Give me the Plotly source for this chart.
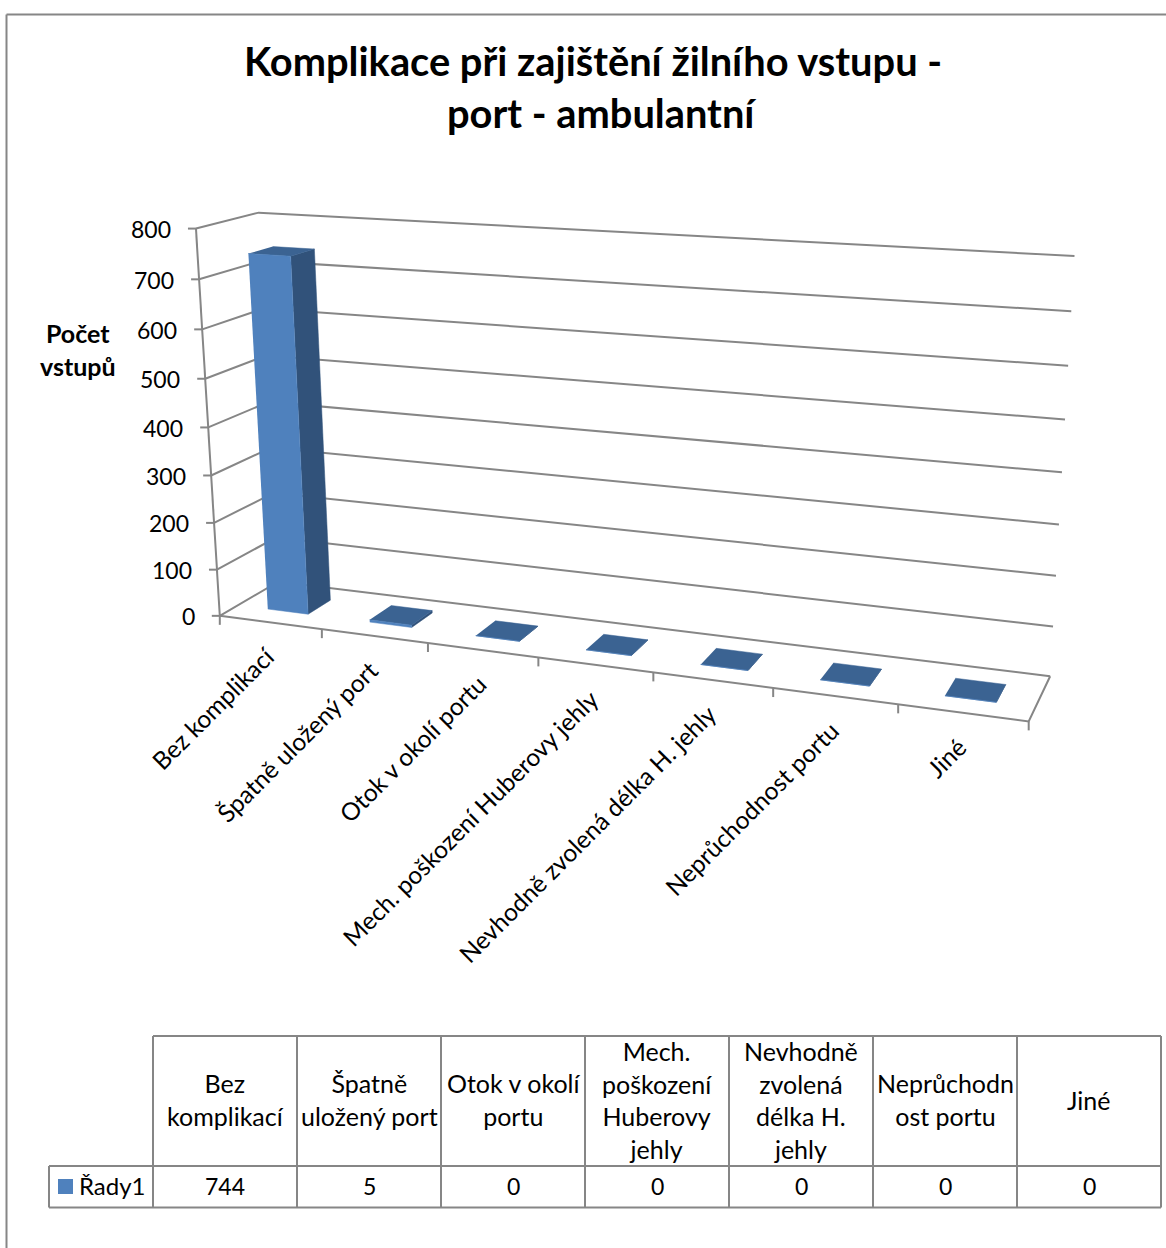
import numpy as np
import plotly.graph_objects as go

# ---- chart data ----
categories = ["Bez komplikací", "Špatně uložený port", "Otok v okolí portu",
              "Mech. poškození Huberovy jehly", "Nevhodně zvolená délka H. jehly",
              "Neprůchodnost portu", "Jiné"]
values = [744, 5, 0, 0, 0, 0, 0]
series_name = "Řady1"
value_ticks = [0, 100, 200, 300, 400, 500, 600, 700, 800]
table_headers = ["Bez<br>komplikací", "Špatně<br>uložený port", "Otok v okolí<br>portu",
                 "Mech.<br>poškození<br>Huberovy<br>jehly", "Nevhodně<br>zvolená<br>délka H.<br>jehly",
                 "Neprůchodn<br>ost portu", "Jiné"]
title_lines = ["Komplikace při zajištění žilního vstupu -", "port - ambulantní"]
axis_title = "Počet<br>vstupů"

# ---- styling ----
W, H = 1166, 1248
FONT = "Lato"
LINE = "#868686"
FRONT, SIDE, TOP = "#4F81BD", "#31527A", "#3B6392"
N = len(categories)

# ---- camera: a pinhole projection of (category, depth, value) onto the page,
# solved from where the chart box's edges and ticks fall ----
floor_front = [(220, 615), (322, 630), (428, 643), (538, 658), (654, 673), (774, 689), (898, 704), (1028, 721)]
wall_front = [(220, 615), (217, 569), (214, 523), (211, 476), (208, 427), (205, 378), (202, 329), (199, 280), (196, 229)]
wall_back_right = [(1050, 676), (1053, 627), (1056, 576), (1059, 524), (1062, 472), (1065, 419), (1068, 366), (1071, 311), (1075, 256)]
corner_pairs = [((0, 1, 0), (278, 582)), ((0, 1, 800), (259, 213))]

pairs = [((i, 0, 0), p) for i, p in enumerate(floor_front)]
pairs += [((0, 0, v), p) for v, p in zip(value_ticks, wall_front)]
pairs += [((N, 1, v), p) for v, p in zip(value_ticks, wall_back_right)]
pairs += corner_pairs

rows, rhs = [], []
for (X, Y, Z), (u, v) in pairs:
    Z = Z / 100
    rows.append([X, Y, Z, 1, 0, 0, 0, 0, -u * X, -u * Y, -u * Z]); rhs.append(u)
    rows.append([0, 0, 0, 0, X, Y, Z, 1, -v * X, -v * Y, -v * Z]); rhs.append(v)
cam = np.linalg.lstsq(np.array(rows, float), np.array(rhs, float), rcond=None)[0]


def project(x, y, z):
    z = z / 100
    d = cam[8] * x + cam[9] * y + cam[10] * z + 1
    return ((cam[0] * x + cam[1] * y + cam[2] * z + cam[3]) / d,
            (cam[4] * x + cam[5] * y + cam[6] * z + cam[7]) / d)


def polyline(points):
    pts = [project(*p) for p in points]
    return [p[0] for p in pts] + [None], [p[1] for p in pts] + [None]


fig = go.Figure()


def add_lines(xs, ys, width=2.0, color=LINE):
    fig.add_trace(go.Scatter(x=xs, y=ys, mode="lines", showlegend=False, hoverinfo="skip",
                             line=dict(color=color, width=width)))


# outer chart frame, open on the right and bottom
add_lines([6.5, 6.5, None, 6.5, W], [H, 14.5, None, 14.5, 14.5])

# walls, floor, gridlines
gx, gy = [], []
for v in value_ticks:
    a, b = polyline([(0, 0, v), (0, 1, v), (N, 1, v)])
    gx += a; gy += b
a, b = polyline([(0, 0, 0), (N, 0, 0), (N, 1, 0)])
gx += a; gy += b
a, b = polyline([(0, 0, 0), (0, 0, 800)])
gx += a; gy += b
for v in value_ticks:
    px, py = project(0, 0, v)
    gx += [px, px - 8, None]; gy += [py, py, None]
for i in range(N + 1):
    px, py = project(i, 0, 0)
    gx += [px, px, None]; gy += [py, py + 9, None]
add_lines(gx, gy)

# columns: right side, top and front faces
GAP = 0.3
for i, val in enumerate(values):
    x0, x1, y0, y1 = i + GAP, i + 1 - GAP, GAP, 1 - GAP
    faces = [
        ([(x1, y0, 0), (x1, y1, 0), (x1, y1, val), (x1, y0, val)], SIDE),
        ([(x0, y0, val), (x1, y0, val), (x1, y1, val), (x0, y1, val)], TOP),
        ([(x0, y0, 0), (x1, y0, 0), (x1, y0, val), (x0, y0, val)], FRONT),
    ]
    for face, color in faces:
        pts = [project(*p) for p in face]
        fig.add_trace(go.Scatter(
            x=[p[0] for p in pts], y=[p[1] for p in pts], fill="toself", fillcolor=color,
            mode="lines", line=dict(color=color, width=0.5), name=series_name,
            showlegend=False, hoverinfo="skip"))

notes = []


def note(x, y, text, size, **kw):
    notes.append(dict(x=x, y=y, xref="x", yref="y", text=text, showarrow=False,
                      font=dict(family=FONT, size=size, color="black"), **kw))


# titles
note(592.5, 60, f"<b>{title_lines[0]}</b>", 39.8, xanchor="center", yanchor="middle")
note(602, 112.5, f"<b>{title_lines[1]}</b>", 39.8, xanchor="center", yanchor="middle")
note(78, 349, f"<b>{axis_title}</b>", 25, xanchor="center", yanchor="middle", align="center")

# value axis labels
for v in value_ticks:
    px, py = project(0, 0, v)
    note(px - 23, py + 0.5, str(v), 23, xanchor="right", yanchor="middle")

# slanted category labels
for i, c in enumerate(categories):
    px, py = project(i + 0.5, 0, 0)
    note(px + 12, py + 16.5, c, 24.5, xanchor="right", yanchor="top", textangle=-45)

# data table beneath the chart
col_edges = [153 + 144 * i for i in range(N + 1)]
ROW0, ROW1, ROW2 = 1036, 1166, 1207.5
tx, ty = [], []
for e in col_edges:
    tx += [e, e, None]; ty += [ROW0, ROW2, None]
tx += [col_edges[0], col_edges[-1], None, 49, col_edges[-1], None, 49, col_edges[-1], None, 49, 49]
ty += [ROW0, ROW0, None, ROW1, ROW1, None, ROW2, ROW2, None, ROW1, ROW2]
add_lines(tx, ty)
for i in range(N):
    cx = (col_edges[i] + col_edges[i + 1]) / 2
    note(cx, (ROW0 + ROW1) / 2 - 1.5, table_headers[i], 25, xanchor="center", yanchor="middle", align="center")
    note(cx, (ROW1 + ROW2) / 2 - 1, str(values[i]), 23, xanchor="center", yanchor="middle")
note(77, (ROW1 + ROW2) / 2 - 1.5, series_name, 24, xanchor="left", yanchor="middle")
fig.add_trace(go.Scatter(x=[58, 73, 73, 58], y=[1179, 1179, 1194, 1194], fill="toself", fillcolor=FRONT,
                         mode="lines", line=dict(color=FRONT, width=0), showlegend=False, hoverinfo="skip"))

fig.update_layout(
    width=W, height=H, autosize=False, margin=dict(l=0, r=0, t=0, b=0),
    paper_bgcolor="white", plot_bgcolor="white", showlegend=False, annotations=notes,
    xaxis=dict(range=[0, W], visible=False, fixedrange=True),
    yaxis=dict(range=[H, 0], visible=False, fixedrange=True),
)
fig.write_html("out.html")
